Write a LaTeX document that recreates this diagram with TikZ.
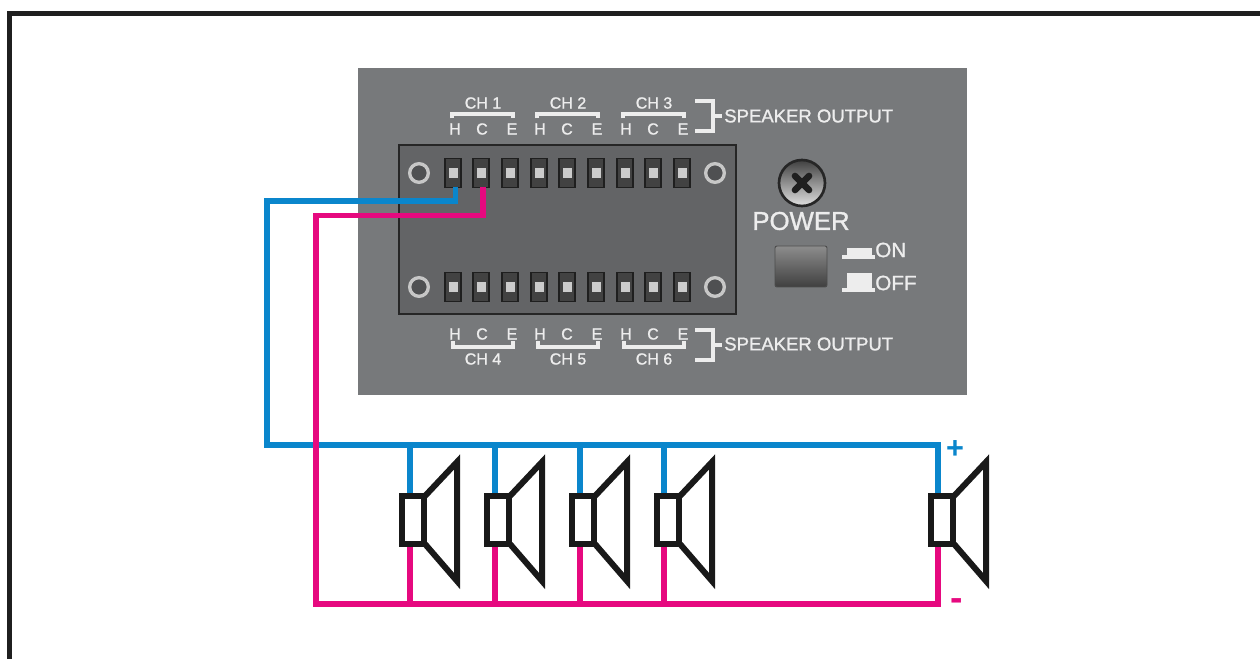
\documentclass[tikz,border=0pt]{standalone}
\usepackage{fontspec}
\setmainfont{Liberation Sans}
\newfontfamily\panelfont[FakeBold=1.2]{Liberation Sans}
\definecolor{panelgray}{HTML}{77797B}
\definecolor{blockgray}{HTML}{636466}
\definecolor{printwhite}{HTML}{EDEDED}
\definecolor{wireblue}{HTML}{0A86CC}
\definecolor{wirepink}{HTML}{E6097F}
\tikzset{
  lbl/.style={text=printwhite, inner sep=0pt, font=\panelfont\fontsize{12}{12}\selectfont},
  outputlbl/.style={lbl, anchor=west, font=\panelfont\fontsize{13.9}{14}\selectfont},
  mark line/.style={draw=printwhite, line width=2.3pt, line cap=butt},
  terminal/.style={draw=black!88, fill=black!74, line width=1.1pt, minimum width=12pt, minimum height=21.5pt, inner sep=0pt},
  hole/.style={draw=black!22, fill=blockgray!80!black, line width=2.5pt, circle, minimum size=14pt, inner sep=0pt},
  bluewire/.style={draw=wireblue, line width=4.2pt},
  pinkwire/.style={draw=wirepink, line width=4.2pt},
  speaker/.pic={
    \draw[black!90, line width=4.5pt, fill=white] (0,-24) rectangle (22,24);
    \draw[black!90, line width=4.5pt, miter limit=10] (23,-24) -- (55,-58) -- (55,61) -- (23,24);
  }
}
\begin{document}
\begin{tikzpicture}[x=0.75pt, y=-0.75pt]
  \useasboundingbox (0,0) rectangle (1260,659);

  % Marco
  \draw[black!88, line width=3.6pt] (9.5,659) -- (9.5,13.5) -- (1260,13.5);

  % Panel
  \fill[panelgray] (358,68) rectangle (967,395);
  \draw[black!85, line width=1.1pt, fill=blockgray] (399,145) rectangle (736,314);

  % Bornes
  \foreach \n/\px in {1/453,2/481,3/510,4/539,5/567,6/596,7/625,8/653,9/682} {
    \node[terminal] (up\n) at (\px,173) {};
    \fill[black!20] (\px-4.5,168.5) rectangle (\px+4.5,178);
    \node[terminal] (low\n) at (\px,287) {};
    \fill[black!20] (\px-4.5,282.5) rectangle (\px+4.5,292);
  }
  \node[hole] (holeUL) at (419,173) {};
  \node[hole] (holeUR) at (715,173) {};
  \node[hole] (holeLL) at (419,287) {};
  \node[hole] (holeLR) at (715,287) {};

  % Rotulos superiores
  \foreach \ch/\px in {1/483,2/568,3/654} {
    \node[lbl] (top\ch) at (\px,103) {CH \ch};
    \draw[mark line] (\px-31,118.5) -- (\px-31,114) -- (\px+30,114) -- (\px+30,118.5);
    \node[lbl] (topH\ch) at (\px-28,129) {H};
    \node[lbl] (topC\ch) at (\px-1,129) {C};
    \node[lbl] (topE\ch) at (\px+29,129) {E};
  }
  \draw[mark line] (695,101) -- (713,101) -- (713,131) -- (695,131);
  \draw[mark line] (713,116) -- (722,116);
  \node[outputlbl] (outTop) at (724,116) {SPEAKER OUTPUT};

  % Rotulos inferiores
  \foreach \ch/\px in {4/483,5/568,6/654} {
    \node[lbl] (bot\ch) at (\px,359) {CH \ch};
    \draw[mark line] (\px-30,341) -- (\px-30,347) -- (\px+30,347) -- (\px+30,341);
    \node[lbl] (botH\ch) at (\px-28,334) {H};
    \node[lbl] (botC\ch) at (\px-1,334) {C};
    \node[lbl] (botE\ch) at (\px+29,334) {E};
  }
  \draw[mark line] (695,330) -- (713,330) -- (713,360) -- (695,360);
  \draw[mark line] (713,345) -- (722,345);
  \node[outputlbl] (outBot) at (724,344) {SPEAKER OUTPUT};

  % Tornillo
  \shade[top color=black!75, bottom color=black!12, draw=black!85, line width=2pt] (802,183) circle (23);
  \draw[black!88, line width=5pt, line cap=round] (795,176) -- (809,190);
  \draw[black!88, line width=5pt, line cap=round] (809,176) -- (795,190);
  \node[lbl, font=\panelfont\fontsize{19.3}{19}\selectfont] (power) at (801,221) {POWER};

  % Interruptor
  \shade[top color=black!45, bottom color=black!75, draw=black!70, line width=0.7pt, rounded corners=1.5pt] (775,246) rectangle (827,287);
  \fill[printwhite] (847,248) rectangle (872,256);
  \draw[mark line] (842,257) -- (875,257);
  \fill[printwhite] (847,273) rectangle (872,289);
  \draw[mark line] (842,290) -- (875,290);
  \node[lbl, anchor=west, font=\panelfont\fontsize{15.5}{16}\selectfont] (on) at (875,250) {ON};
  \node[lbl, anchor=west, font=\panelfont\fontsize{15.5}{16}\selectfont] (off) at (875,283) {OFF};

  % Cables
  \coordinate (blueLeft) at (267,445);
  \coordinate (blueRight) at (938,445);
  \coordinate (pinkLeft) at (316,604);
  \coordinate (pinkRight) at (938,604);
  \coordinate (spkA) at (410,520);
  \coordinate (spkB) at (495,520);
  \coordinate (spkC) at (580,520);
  \coordinate (spkD) at (664,520);
  \coordinate (spkE) at (938,520);

  \draw[bluewire] (455.5,187) -- (455.5,201) -- (267,201) -- (blueLeft) -- (blueRight) -- (spkE);
  \foreach \s in {spkA,spkB,spkC,spkD}
    \draw[bluewire] (\s |- blueLeft) -- (\s);
  \draw[pinkwire] (483,187) -- (483,215.5) -- (316,215.5) -- (pinkLeft) -- (pinkRight) -- (spkE);
  \foreach \s in {spkA,spkB,spkC,spkD}
    \draw[pinkwire] (\s |- pinkLeft) -- (\s);

  % Altavoces
  \pic at (402,520) {speaker};
  \pic at (487,520) {speaker};
  \pic at (572,520) {speaker};
  \pic at (657,520) {speaker};
  \pic at (931,520) {speaker};

  % Polaridad
  \node[inner sep=0pt, text=wireblue, font=\bfseries\fontsize{23}{23}\selectfont] (plus) at (955,450) {+};
  \node[inner sep=0pt, text=wirepink, font=\bfseries\fontsize{28}{28}\selectfont] (minus) at (957,605) {-};
\end{tikzpicture}
\end{document}
